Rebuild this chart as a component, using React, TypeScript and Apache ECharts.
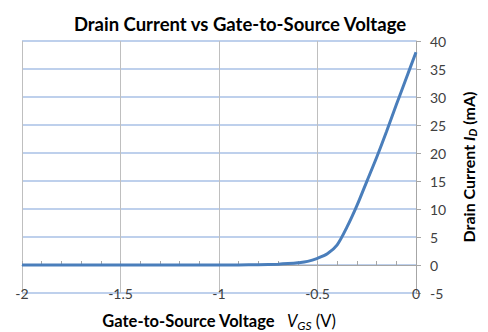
import React, { useEffect, useRef } from "react";
import * as echarts from "echarts";

const vgs = [-2, -1.9, -1.8, -1.7, -1.6, -1.5, -1.4, -1.3, -1.2, -1.1, -1.0, -0.9, -0.8, -0.7, -0.65, -0.6, -0.55, -0.5, -0.45, -0.4, -0.35, -0.3, -0.25, -0.2, -0.15, -0.1, -0.05, 0];
const idMA = [0, 0, 0, 0, 0, 0, 0, 0, 0, 0, 0, 0.02, 0.05, 0.15, 0.25, 0.4, 0.65, 1.2, 2.0, 3.6, 6.8, 10.6, 14.9, 19.2, 23.8, 28.6, 33.3, 38];
const xTicks = [-2, -1.5, -1, -0.5, 0];
const yTicks = [-5, 0, 5, 10, 15, 20, 25, 30, 35, 40];

const FONT = "Lato, 'Open Sans', sans-serif";

export default function App() {
  const ref = useRef<HTMLDivElement>(null);
  useEffect(() => {
    if (!ref.current) return;
    const chart = echarts.init(ref.current, undefined, { renderer: "svg" });
    chart.setOption({
      animation: false,
      backgroundColor: "#ffffff",
      textStyle: { fontFamily: FONT },
      title: {
        text: "Drain Current vs Gate-to-Source Voltage",
        left: 235,
        textAlign: "center",
        top: 9,
        textStyle: { fontFamily: FONT, fontSize: 18.5, fontWeight: "bold", color: "#000" },
      },
      grid: { left: 22, right: 72, top: 41, bottom: 39, outerBoundsMode: "none", containLabel: false },
      xAxis: [
        {
          type: "value",
          min: xTicks[0],
          max: xTicks[xTicks.length - 1],
          interval: 0.5,
          position: "bottom",
          axisLine: { show: false, onZero: false },
          axisTick: { show: false },
          axisLabel: { color: "#404040", fontSize: 14, fontFamily: FONT, margin: -7 },
          splitLine: { show: true, lineStyle: { color: "#bfbfbf", width: 1 } },
          name: "{b|Gate-to-Source Voltage   }{i|V}{s|GS}{n| (V)}",
          nameLocation: "middle",
          nameGap: 18,
          nameTextStyle: {
            rich: {
              b: { fontSize: 16.5, fontWeight: "bold", color: "#000", fontFamily: FONT },
              i: { fontSize: 16.5, fontStyle: "italic", color: "#000", fontFamily: FONT },
              n: { fontSize: 16.5, color: "#000", fontFamily: FONT },
              s: { fontSize: 12, fontStyle: "italic", color: "#000", fontFamily: FONT, padding: [8, 0, 0, 0] },
            },
          },
        },
        {
          type: "value",
          min: xTicks[0],
          max: xTicks[xTicks.length - 1],
          interval: 0.5,
          position: "bottom",
          axisLine: { show: true, onZero: true, lineStyle: { color: "#a6a6a6", width: 1 } },
          axisTick: { show: true, inside: true, length: 4, lineStyle: { color: "#a6a6a6" } },
          minorTick: { show: true, splitNumber: 5, length: 4, lineStyle: { color: "#a6a6a6" } },
          axisLabel: { show: false },
          splitLine: { show: false },
        },
      ],
      yAxis: {
        type: "value",
        position: "right",
        min: yTicks[0],
        max: yTicks[yTicks.length - 1],
        interval: 5,
        axisLine: { show: true, lineStyle: { color: "#a6a6a6" } },
        axisTick: { show: true, length: 5, lineStyle: { color: "#a6a6a6" } },
        axisLabel: { color: "#404040", fontSize: 14, fontFamily: FONT, margin: 14 },
        splitLine: { show: true, lineStyle: { color: "#a9c1e6", width: 1.5 } },
        name: "{b|Drain Current }{i|I}{s|D}{b| (mA)}",
        nameLocation: "middle",
        nameRotate: 90,
        nameGap: 43,
        nameTextStyle: {
          rich: {
            b: { fontSize: 16, fontWeight: "bold", color: "#000", fontFamily: FONT },
            i: { fontSize: 16, fontStyle: "italic", fontWeight: "bold", color: "#000", fontFamily: FONT },
            s: { fontSize: 11, fontStyle: "italic", fontWeight: "bold", color: "#000", fontFamily: FONT, padding: [8, 0, 0, 0] },
          },
        },
      },
      series: [
        {
          type: "line",
          xAxisIndex: 0,
          data: vgs.map((v, i) => [v, idMA[i]]),
          showSymbol: false,
          smooth: 0.3,
          lineStyle: { color: "#4a7ebb", width: 3 },
          itemStyle: { color: "#4a7ebb" },
        },
      ],
    });
    return () => chart.dispose();
  }, []);
  return <div ref={ref} style={{ width: 488, height: 332, position: "fixed", left: 0, top: 0 }} />;
}
